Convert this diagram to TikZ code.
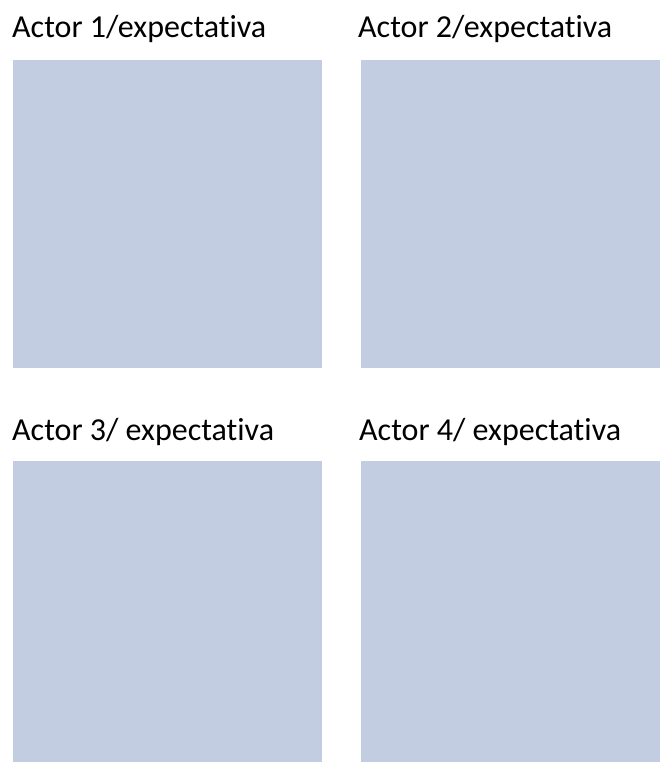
\documentclass[tikz,border=0pt]{standalone}
\usepackage{fontspec}
\setmainfont{Carlito}[Ligatures={NoCommon,NoRare,NoDiscretionary}]
\definecolor{boxblue}{RGB}{195,205,225}
\begin{document}
\begin{tikzpicture}[x=1pt,y=-1pt,
  panel/.style={fill=boxblue,draw=none,inner sep=0pt,outer sep=0pt,anchor=north west,minimum width=309pt,minimum height=308pt},
  label/.style={anchor=base west,inner sep=0pt,font=\fontsize{32}{38}\selectfont,text=black}]
\useasboundingbox (0,0) rectangle (660,762);
\clip (0,0) rectangle (660,762);
\node[label] (t1) at (12,38) {Actor 1/expectativa};
\node[label] (t2) at (358,38) {Actor 2/expectativa};
\node[label] (t3) at (12,440) {Actor 3/ expectativa};
\node[label] (t4) at (359,440) {Actor 4/ expectativa};
\node[panel] (b1) at (13,60) {};
\node[panel] (b2) at (361,60) {};
\node[panel] (b3) at (13,461) {};
\node[panel] (b4) at (361,461) {};
\end{tikzpicture}
\end{document}
